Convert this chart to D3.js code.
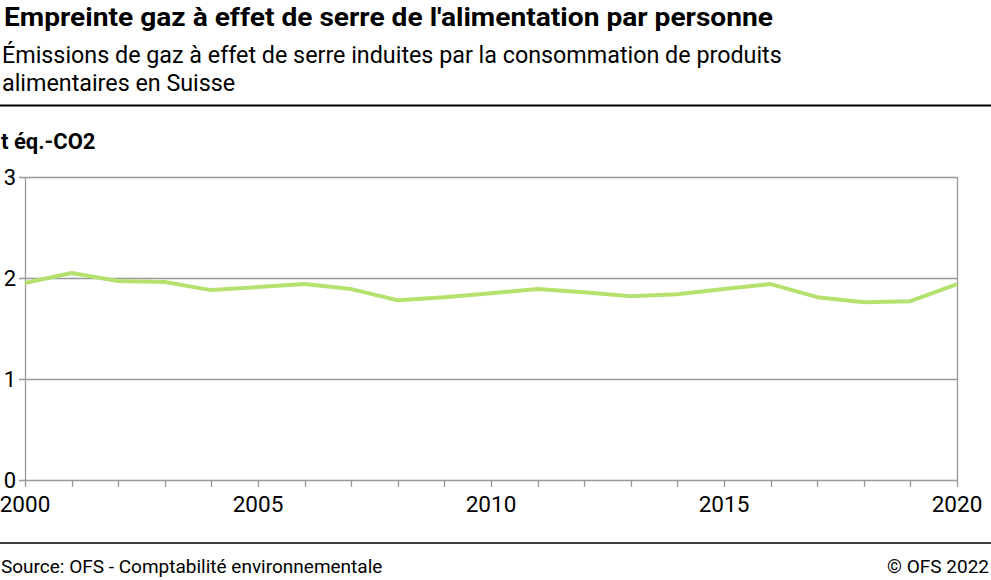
<!DOCTYPE html>
<html>
<head>
<meta charset="utf-8">
<script src="https://cdn.jsdelivr.net/npm/d3@7"></script>
<style>
    body { margin: 0; background: #fff; }
    text { font-family: Roboto, "Noto Sans", sans-serif; }
</style>
</head>
<body>
<script>
// data
const years = d3.range(2000, 2021);
const values = [1.95, 2.05, 1.97, 1.96, 1.88, 1.91, 1.94, 1.89, 1.78, 1.81, 1.85,
                1.89, 1.86, 1.82, 1.84, 1.89, 1.94, 1.81, 1.76, 1.77, 1.94];
const yTicks = [0, 1, 2, 3];
const xLabels = [2000, 2005, 2010, 2015, 2020];

const title = "Empreinte gaz à effet de serre de l'alimentation par personne";
const subtitle = ["Émissions de gaz à effet de serre induites par la consommation de produits",
                  "alimentaires en Suisse"];
const unit = "t éq.-CO2";
const source = "Source: OFS - Comptabilité environnementale";
const copyright = "© OFS 2022";

const width = 991, height = 580;
const margin = {left: 25, right: 34, top: 177, bottom: 100};

const svg = d3.select("body")
    .append("svg")
    .attr("width", width)
    .attr("height", height);

// header
svg.append("text")
    .attr("x", 4).attr("y", 26)
    .attr("font-size", 26)
    .attr("font-weight", "bold")
    .attr("textLength", 769)
    .attr("lengthAdjust", "spacingAndGlyphs")
    .attr("fill", "#000")
    .text(title);

svg.selectAll("text.sub")
    .data(subtitle)
    .enter()
    .append("text")
    .attr("class", "sub")
    .attr("x", 2)
    .attr("y", (d, i) => 63 + i * 28)
    .attr("font-size", 23.3)
    .attr("fill", "#000")
    .text(d => d);

svg.append("line")
    .attr("x1", 0).attr("x2", width)
    .attr("y1", 105.5).attr("y2", 105.5)
    .attr("stroke", "#000").attr("stroke-width", 2);

svg.append("text")
    .attr("x", 1).attr("y", 149)
    .attr("font-size", 22)
    .attr("font-weight", "bold")
    .text(unit);

// scales
const x = d3.scaleLinear()
    .domain([2000, 2020])
    .range([margin.left, width - margin.right]);

const y = d3.scaleLinear()
    .domain([0, 3])
    .range([height - margin.bottom, margin.top]);

// grid lines
svg.append("g")
    .selectAll("line")
    .data(yTicks)
    .enter()
    .append("line")
    .attr("x1", x(2000) - 6).attr("x2", x(2020))
    .attr("y1", d => Math.round(y(d)) + 0.5)
    .attr("y2", d => Math.round(y(d)) + 0.5)
    .attr("stroke", "#999").attr("stroke-width", 1.3);

// frame verticals
[2000, 2020].forEach(yr => {
    svg.append("line")
        .attr("x1", Math.round(x(yr)) + 0.5).attr("x2", Math.round(x(yr)) + 0.5)
        .attr("y1", y(3)).attr("y2", y(0))
        .attr("stroke", "#999").attr("stroke-width", 1.3);
});

// y labels
svg.append("g")
    .selectAll("text")
    .data(yTicks)
    .enter()
    .append("text")
    .attr("x", 16)
    .attr("y", d => y(d) + 8)
    .attr("text-anchor", "end")
    .attr("font-size", 22)
    .text(d => d);

// x axis ticks
svg.append("g")
    .selectAll("line")
    .data(years)
    .enter()
    .append("line")
    .attr("x1", d => Math.round(x(d)) + 0.5)
    .attr("x2", d => Math.round(x(d)) + 0.5)
    .attr("y1", y(0)).attr("y2", y(0) + 7)
    .attr("stroke", "#999").attr("stroke-width", 1.3);

svg.append("g")
    .selectAll("text")
    .data(xLabels)
    .enter()
    .append("text")
    .attr("x", d => x(d))
    .attr("y", y(0) + 32)
    .attr("text-anchor", "middle")
    .attr("font-size", 22.5)
    .text(d => d);

// line
const line = d3.line()
    .x((d, i) => x(years[i]))
    .y(d => y(d));

svg.append("path")
    .datum(values)
    .attr("fill", "none")
    .attr("stroke", "#b5e26f")
    .attr("stroke-width", 4)
    .attr("stroke-linejoin", "round")
    .attr("d", line);

// footer
svg.append("line")
    .attr("x1", 0).attr("x2", width)
    .attr("y1", 543).attr("y2", 543)
    .attr("stroke", "#000").attr("stroke-width", 1.5);

svg.append("text")
    .attr("x", 1).attr("y", 573)
    .attr("font-size", 19)
    .text(source);

svg.append("text")
    .attr("x", width - 2).attr("y", 573)
    .attr("text-anchor", "end")
    .attr("font-size", 19)
    .text(copyright);
</script>
</body>
</html>
